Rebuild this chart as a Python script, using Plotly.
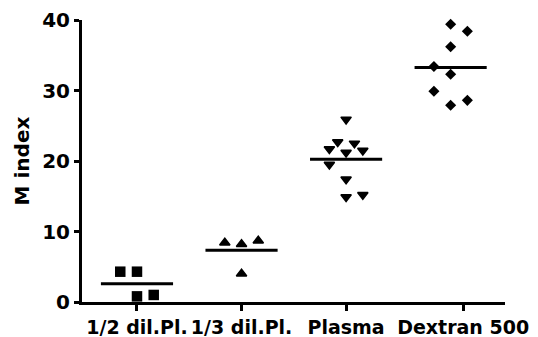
import plotly.graph_objects as go

# 组别与数据
groups = ["1/2 dil.Pl.", "1/3 dil.Pl.", "Plasma", "Dextran 500"]
group_pos = [1, 2, 3, 4]
tick_pos = [1, 2, 3, 4.12]

half_dil = [4.3, 4.3, 0.8, 1.0]
half_dil_dx = [-0.16, 0.0, 0.0, 0.16]

third_dil = [8.4, 8.2, 8.7, 4.0]
third_dil_dx = [-0.16, 0.0, 0.16, 0.0]

plasma = [25.9, 22.7, 22.5, 21.7, 21.2, 21.5, 19.5, 17.4, 14.9, 15.2]
plasma_dx = [0.0, -0.08, 0.08, -0.16, 0.0, 0.16, -0.16, 0.0, 0.0, 0.16]

dextran = [39.4, 38.4, 36.2, 33.4, 32.3, 29.9, 27.9, 28.6]
dextran_dx = [0.0, 0.16, 0.0, -0.16, 0.0, -0.16, 0.0, 0.16]

series = [
    (half_dil, half_dil_dx, "square", 10.5, 0),
    (third_dil, third_dil_dx, "triangle-up", 9, 1.5),
    (plasma, plasma_dx, "triangle-down", 9, 1.5),
    (dextran, dextran_dx, "diamond", 8.5, 0),
]

FONT = "DejaVu Sans"

fig = go.Figure()
for (vals, dx, sym, size, lw), cx in zip(series, group_pos):
    fig.add_trace(go.Scatter(
        x=[cx + d for d in dx],
        y=vals,
        mode="markers",
        marker=dict(symbol=sym, size=size, color="black",
                    line=dict(color="black", width=lw)),
        cliponaxis=False,
        showlegend=False,
    ))
    # 均值线
    m = sum(vals) / len(vals)
    fig.add_trace(go.Scatter(
        x=[cx - 0.345, cx + 0.345],
        y=[m, m],
        mode="lines",
        line=dict(color="black", width=3),
        showlegend=False,
    ))

# 页面 body 默认有 8px 边距，左/上各少 8px 抵消
fig.update_layout(
    width=530,
    height=329,
    margin=dict(l=74, r=33, t=12, b=35),
    paper_bgcolor="white",
    plot_bgcolor="white",
    font=dict(family=FONT, color="black"),
    xaxis=dict(
        range=[0.474, 4.52],
        automargin=False,
        tickmode="array",
        tickvals=tick_pos,
        ticktext=groups,
        ticks="outside",
        ticklen=6,
        tickwidth=3,
        tickcolor="black",
        showline=True,
        linecolor="black",
        linewidth=3,
        showgrid=False,
        zeroline=False,
        tickfont=dict(family=FONT, size=19, color="black", weight="bold"),
    ),
    yaxis=dict(
        range=[0, 40],
        automargin=False,
        tickvals=[0, 10, 20, 30, 40],
        ticks="outside",
        ticklen=5,
        tickwidth=3,
        tickcolor="black",
        showline=True,
        linecolor="black",
        linewidth=3,
        showgrid=False,
        zeroline=False,
        tickfont=dict(family=FONT, size=20, color="black", weight="bold"),
        title=dict(text="M index", standoff=8,
                   font=dict(family=FONT, size=20, color="black", weight="bold")),
    ),
)

fig.write_html("out.html")
